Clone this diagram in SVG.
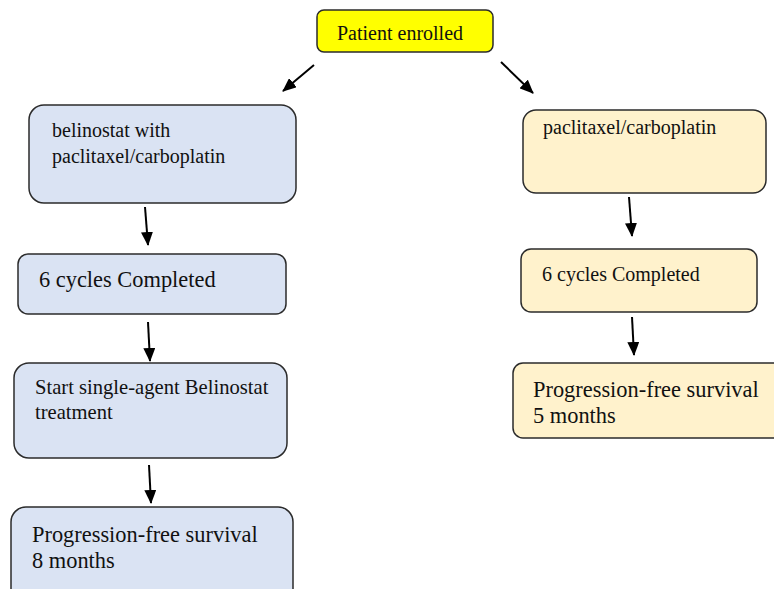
<svg xmlns="http://www.w3.org/2000/svg" width="774" height="589" viewBox="0 0 774 589">
<defs>
<marker id="ah" markerUnits="userSpaceOnUse" markerWidth="14" markerHeight="12" refX="13" refY="6" orient="auto">
<path d="M0,0 L14,6 L0,12 Z" fill="#000"/>
</marker>
<style>
.box{stroke:#2b2b2b;stroke-width:1.5}
.blue{fill:#dae3f3}
.cream{fill:#fff2cc}
.yellow{fill:#ffff00}
text{font-family:"Liberation Serif","Times New Roman",serif;fill:#111}
.s{font-size:20px}
.l{font-size:22.4px}
.c{stroke:#000;stroke-width:2;fill:none;marker-end:url(#ah)}
</style>
</defs>
<rect width="774" height="589" fill="#fff"/>
<g id="n-patient">
<rect class="box yellow" x="317" y="10" width="176" height="42" rx="7"/>
<text class="s" x="400" y="40" text-anchor="middle">Patient enrolled</text>
</g>
<g id="n-l1">
<rect class="box blue" x="29" y="105" width="267" height="98" rx="15"/>
<text class="s" x="52" y="137">belinostat with</text>
<text class="s" x="52" y="163">paclitaxel/carboplatin</text>
</g>
<g id="n-l2">
<rect class="box blue" x="18" y="254" width="268" height="60" rx="10"/>
<text class="l" x="39" y="287">6 cycles Completed</text>
</g>
<g id="n-l3">
<rect class="box blue" x="14" y="363" width="273" height="95" rx="15"/>
<text class="s" x="35" y="394" style="font-size:20.6px">Start single-agent Belinostat</text>
<text class="s" x="35" y="419" style="font-size:20.6px">treatment</text>
</g>
<g id="n-l4">
<rect class="box blue" x="11" y="507" width="282" height="100" rx="15"/>
<text class="l" x="32" y="542">Progression-free survival</text>
<text class="l" x="32" y="568">8 months</text>
</g>
<g id="n-r1">
<rect class="box cream" x="523" y="110" width="243" height="83" rx="13"/>
<text class="s" x="543" y="134">paclitaxel/carboplatin</text>
</g>
<g id="n-r2">
<rect class="box cream" x="521" y="249" width="236" height="63" rx="10"/>
<text class="s" x="542" y="281">6 cycles Completed</text>
</g>
<g id="n-r3">
<rect class="box cream" x="513" y="363" width="275" height="75" rx="10"/>
<text class="l" x="533" y="397">Progression-free survival</text>
<text class="l" x="533" y="423">5 months</text>
</g>
<g id="connectors">
<line class="c" x1="314" y1="65" x2="283" y2="91"/>
<line class="c" x1="501" y1="62" x2="533" y2="93"/>
<line class="c" x1="145" y1="207" x2="148" y2="245"/>
<line class="c" x1="148" y1="322" x2="150" y2="361"/>
<line class="c" x1="149" y1="465" x2="151" y2="503"/>
<line class="c" x1="629" y1="197" x2="632" y2="236"/>
<line class="c" x1="632" y1="317" x2="634" y2="355"/>
</g>
</svg>
